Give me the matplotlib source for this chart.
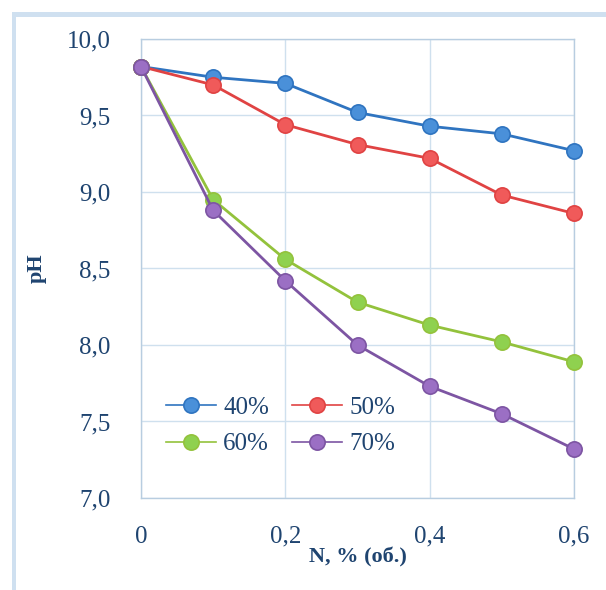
import matplotlib
matplotlib.use("Agg")
import matplotlib.pyplot as plt
from matplotlib.patches import Rectangle

x_vals = [0, 0.1, 0.2, 0.3, 0.4, 0.5, 0.6]
ph_40 = [9.82, 9.75, 9.71, 9.52, 9.43, 9.38, 9.27]
ph_50 = [9.82, 9.70, 9.44, 9.31, 9.22, 8.98, 8.86]
ph_60 = [9.82, 8.95, 8.56, 8.28, 8.13, 8.02, 7.89]
ph_70 = [9.82, 8.88, 8.42, 8.00, 7.73, 7.55, 7.32]
labels = ["40%", "50%", "60%", "70%"]
x_ticks = [0, 0.2, 0.4, 0.6]
x_tick_labels = ["0", "0,2", "0,4", "0,6"]
y_ticks = [7.0, 7.5, 8.0, 8.5, 9.0, 9.5, 10.0]
y_tick_labels = ["7,0", "7,5", "8,0", "8,5", "9,0", "9,5", "10,0"]

line_colors = ["#2f74c0", "#e04343", "#93c23c", "#7d55a3"]
marker_colors = ["#4a90d9", "#f05a5a", "#8fd14f", "#9b6fc4"]
text_color = "#1f4470"
serif = ["Liberation Serif", "DejaVu Serif"]

W, H = 606, 590
fig = plt.figure(figsize=(W / 100, H / 100), dpi=100)
fig.patch.set_facecolor("white")

# outer light-blue frame
fig.patches.append(Rectangle((12 / W, 0), 4 / W, 1 - 12 / H, transform=fig.transFigure,
                             facecolor="#cfe0f0", edgecolor="none"))
fig.patches.append(Rectangle((12 / W, 1 - 17 / H), 1 - 12 / W, 5 / H, transform=fig.transFigure,
                             facecolor="#cfe0f0", edgecolor="none"))

left, right, top, bottom = 141, 574, 39, 498
ax = fig.add_axes([left / W, 1 - bottom / H, (right - left) / W, (bottom - top) / H])

handles = []
for ys, lc, mc, lab in zip([ph_40, ph_50, ph_60, ph_70], line_colors, marker_colors, labels):
    h, = ax.plot(x_vals, ys, color=lc, lw=2.0, marker="o", markersize=11,
                 markerfacecolor=mc, markeredgecolor=lc, markeredgewidth=1.2, label=lab, zorder=3,
                 clip_on=False)
    handles.append(h)

ax.set_xlim(0, 0.6)
ax.set_ylim(7.0, 10.0)
ax.set_xticks(x_ticks)
ax.set_xticklabels(x_tick_labels)
ax.set_yticks(y_ticks)
ax.set_yticklabels(y_tick_labels)
ax.tick_params(length=0, labelsize=18, labelcolor=text_color)
for lbl in ax.get_xticklabels() + ax.get_yticklabels():
    lbl.set_family(serif)
ax.tick_params(axis="x", pad=20)
ax.tick_params(axis="y", pad=22)
ax.grid(True, color="#cfe0ee", lw=1.0)
ax.set_axisbelow(True)
for s in ax.spines.values():
    s.set_color("#b8cde0")
    s.set_linewidth(1.0)

ax.set_xlabel("N, % (об.)", fontsize=16, fontweight="bold", color=text_color, family=serif, labelpad=0)
ax.set_ylabel("pH", fontsize=16, fontweight="bold", color=text_color, family=serif, labelpad=14)

order = [0, 2, 1, 3]
leg = ax.legend([handles[i] for i in order], [labels[i] for i in order],
                loc="lower left", bbox_to_anchor=(0.034, 0.071), ncol=2, frameon=False,
                prop={"family": serif, "size": 18}, handlelength=2.0, columnspacing=0.9,
                handletextpad=0.3, labelspacing=0.55, borderaxespad=0)
for t in leg.get_texts():
    t.set_color(text_color)
for h in leg.legend_handles:
    h.set_linewidth(1.2)

fig.savefig("out.png", dpi=100, facecolor="white")
